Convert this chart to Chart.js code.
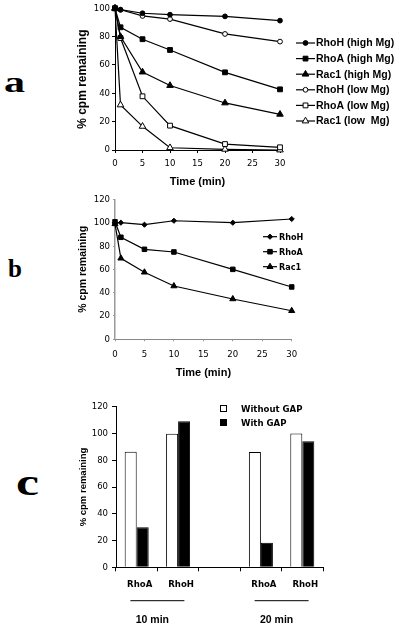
<!DOCTYPE html>
<html><head><meta charset="utf-8">
<script src="https://cdn.jsdelivr.net/npm/chart.js@4.4.1/dist/chart.umd.min.js"></script>
<style>
html,body{margin:0;padding:0;background:#fff;width:400px;height:634px;overflow:hidden;position:relative;}
canvas{position:absolute;left:0;}
.lab{position:absolute;font-family:"Liberation Serif","DejaVu Serif",serif;font-weight:bold;color:#000;line-height:1;transform-origin:left top;white-space:nowrap;}
</style></head><body>
<div class="lab" style="left:4px;top:67px;font-size:30px;transform:scaleX(1.4);">a</div>
<div class="lab" style="left:8px;top:256px;font-size:25px;">b</div>
<div class="lab" style="left:16px;top:464px;font-size:37px;transform:scaleX(1.4);">c</div>
<canvas id="ca" width="400" height="200" style="top:0px"></canvas>
<canvas id="cb" width="400" height="200" style="top:190px"></canvas>
<canvas id="cc" width="400" height="239" style="top:395px"></canvas>
<script>
// ---------- DATA ----------
// Panel a
const timeA = [0, 1, 5, 10, 20, 30];
const rhoHHighA = [100, 99, 96.5, 95.5, 94.3, 91.3];
const rhoAHighA = [100, 86.6, 78.2, 70.6, 54.8, 42.8];
const rac1HighA = [100, 80, 55, 45.5, 33.2, 25.2];
const rhoHLowA = [100, 99, 94.6, 92.4, 81.9, 76.5];
const rhoALowA = [100, 79, 37.9, 17.2, 4.2, 1.9];
const rac1LowA = [100, 31.8, 16.7, 1.6, 0.5, 0];
const labelsA = ['RhoH (high Mg)', 'RhoA (high Mg)', 'Rac1 (high Mg)', 'RhoH (low Mg)', 'RhoA (low Mg)', 'Rac1 (low  Mg)'];
// Panel b
const timeB = [0, 1, 5, 10, 20, 30];
const rhoHB = [100, 100, 98.3, 101.7, 100, 103.2];
const rhoAB = [100.8, 87.5, 77.2, 74.9, 60, 44.9];
const rac1B = [99, 69.5, 57.5, 45.7, 34.6, 24.5];
const labelsB = ['RhoH', 'RhoA', 'Rac1'];
// Panel c
const categoriesC = ['RhoA', 'RhoH', '', 'RhoA', 'RhoH'];
const withoutGapC = [86.4, 99.8, null, 86.2, 100];
const withGapC = [29.9, 109.1, null, 18.4, 94.2];
const groupLabelsC = ['10 min', '20 min'];
const groupSpansC = [[0, 1], [3, 4]];
const legendC = ['Without GAP', 'With GAP'];
// Tick ranges
const yTicksA = {min: 0, max: 100, step: 20};
const yTicksB = {min: 0, max: 120, step: 20};
const yTicksC = {min: 0, max: 120, step: 20};
const xTicksAB = {min: 0, max: 30, step: 5};

// ---------- STYLE ----------
const NARROW = '"Liberation Sans Narrow","DejaVu Sans Condensed","Liberation Sans",sans-serif';
const SANS = '"Liberation Sans",Arial,sans-serif';
Chart.defaults.color = '#000';

function marker(ctx, style, filled, x, y, r) {
  ctx.save();
  ctx.lineWidth = 1; ctx.strokeStyle = '#000'; ctx.fillStyle = filled ? '#000' : '#fff';
  ctx.beginPath();
  if (style === 'circle') ctx.arc(x, y, r, 0, Math.PI * 2);
  else if (style === 'rect') { const h = r * Math.SQRT1_2; ctx.rect(x - h, y - h, 2 * h, 2 * h); }
  else if (style === 'rectRot') { ctx.moveTo(x, y - r); ctx.lineTo(x + r, y); ctx.lineTo(x, y + r); ctx.lineTo(x - r, y); ctx.closePath(); }
  else if (style === 'triangle') {
    let a = 0;
    for (let k = 0; k < 3; k++) { const px = x + Math.sin(a) * r, py = y - Math.cos(a) * r; k ? ctx.lineTo(px, py) : ctx.moveTo(px, py); a += 2 * Math.PI / 3; }
    ctx.closePath();
  }
  ctx.fill(); ctx.stroke(); ctx.restore();
}

function lineDataset(label, xs, ys, style, filled, r) {
  return {
    label: label, data: xs.map((t, i) => ({x: t, y: ys[i]})),
    borderColor: '#000', borderWidth: 1.2, tension: 0, fill: false, clip: false,
    pointStyle: style, pointRadius: r, pointBackgroundColor: filled ? '#000' : '#fff',
    pointBorderColor: '#000', pointBorderWidth: 1, _filled: filled
  };
}

function lineLegendPlugin(id, cfg) {
  return {
    id: id,
    afterDraw(chart) {
      const ctx = chart.ctx;
      ctx.save();
      chart.data.datasets.forEach((ds, i) => {
        const y = cfg.y0 + i * cfg.dy;
        ctx.strokeStyle = '#000'; ctx.lineWidth = 1.2;
        ctx.beginPath(); ctx.moveTo(cfg.x0, y); ctx.lineTo(cfg.x1, y); ctx.stroke();
        marker(ctx, ds.pointStyle, ds._filled, (cfg.x0 + cfg.x1) / 2, y, ds.pointRadius);
        ctx.fillStyle = '#000'; ctx.font = cfg.font; ctx.textBaseline = 'middle'; ctx.textAlign = 'left';
        ctx.fillText(ds.label, cfg.tx, y + 0.5);
      });
      ctx.restore();
    }
  };
}

function axisX(t, opts) {
  return {
    type: 'linear', min: t.min, max: t.max,
    ticks: {stepSize: t.step, color: '#000', font: {family: NARROW, size: 9.5}, padding: opts.tickPad, maxRotation: 0},
    grid: {display: true, drawOnChartArea: false, drawTicks: true, tickLength: opts.tickLen, color: opts.tickColor || '#000'},
    border: {color: opts.borderColor || '#000', width: 1},
    title: {display: true, text: 'Time (min)', color: '#000', font: {family: SANS, size: 11, weight: 'bold'}, padding: {top: 0, bottom: opts.titlePad}},
    afterFit: s => { s.height = opts.height; }
  };
}
function axisY(t, opts) {
  return {
    min: t.min, max: t.max,
    ticks: {stepSize: t.step, color: '#000', font: {family: NARROW, size: 9.5}, padding: opts.tickPad},
    grid: {display: true, drawOnChartArea: false, drawTicks: true, tickLength: opts.tickLen, color: opts.tickColor || '#000'},
    border: {color: opts.borderColor || '#000', width: opts.borderWidth || 1},
    title: {display: true, text: '% cpm remaining', color: '#000', font: {family: opts.titleFamily || SANS, size: opts.titleSize, weight: 'bold'}, padding: {top: opts.titlePad, bottom: 0}},
    afterFit: s => { s.width = opts.width; }
  };
}
const base = {responsive: false, animation: false, devicePixelRatio: 1,
  plugins: {legend: {display: false}, tooltip: {enabled: false}}};

// ---------- PANEL A ----------
new Chart(document.getElementById('ca'), {
  type: 'line',
  data: {datasets: [
    lineDataset(labelsA[0], timeA, rhoHHighA, 'circle', true, 2.4),
    lineDataset(labelsA[1], timeA, rhoAHighA, 'rect', true, 3.4),
    lineDataset(labelsA[2], timeA, rac1HighA, 'triangle', true, 3.8),
    lineDataset(labelsA[3], timeA, rhoHLowA, 'circle', false, 2.4),
    lineDataset(labelsA[4], timeA, rhoALowA, 'rect', false, 3.4),
    lineDataset(labelsA[5], timeA, rac1LowA, 'triangle', false, 3.8)
  ]},
  options: Object.assign({}, base, {
    layout: {padding: {top: 8.3, right: 120, bottom: 0, left: 0}},
    scales: {
      x: axisX(xTicksAB, {tickPad: 5.3, tickLen: 3, titlePad: 11.4, height: 50}),
      y: axisY(yTicksA, {tickPad: 2, tickLen: 3, titleSize: 12, titlePad: 75.8, width: 115})
    }
  }),
  plugins: [lineLegendPlugin('legA', {x0: 296, x1: 315, tx: 316, y0: 43, dy: 15.6, font: 'bold 10.5px ' + SANS})]
});

// ---------- PANEL B ----------
new Chart(document.getElementById('cb'), {
  type: 'line',
  data: {datasets: [
    lineDataset(labelsB[0], timeB, rhoHB, 'rectRot', true, 2.6),
    lineDataset(labelsB[1], timeB, rhoAB, 'rect', true, 3.2),
    lineDataset(labelsB[2], timeB, rac1B, 'triangle', true, 3.5)
  ]},
  options: Object.assign({}, base, {
    layout: {padding: {top: 9.4, right: 108.3, bottom: 0, left: 0}},
    scales: {
      x: axisX(xTicksAB, {tickPad: 8, tickLen: 2, titlePad: 10.4, height: 50.7, tickColor: '#999', borderColor: '#888'}),
      y: axisY(yTicksB, {tickPad: 3, tickLen: 2, titleSize: 10.5, titlePad: 76.7, width: 115, tickColor: '#999', borderColor: '#999', borderWidth: 1.5})
    }
  }),
  plugins: [lineLegendPlugin('legB', {x0: 263, x1: 277, tx: 279, y0: 46.7, dy: 15, font: 'bold 9px ' + NARROW})]
});

// ---------- PANEL C ----------
const extrasC = {
  id: 'extrasC',
  afterDraw(chart) {
    const ctx = chart.ctx, xs = chart.scales.x;
    ctx.save();
    // legend
    legendC.forEach((t, i) => {
      const y = [13, 27][i];
      ctx.fillStyle = i === 0 ? '#fff' : '#000'; ctx.strokeStyle = '#000'; ctx.lineWidth = 1;
      ctx.fillRect(220, y - 3, 6.5, 6.5); ctx.strokeRect(220.5, y - 2.5, 6, 6);
      ctx.fillStyle = '#000'; ctx.font = 'bold 9.5px ' + NARROW; ctx.textBaseline = 'middle'; ctx.textAlign = 'left';
      ctx.fillText(t, 241, y + 2);
    });
    // group underlines and labels
    groupSpansC.forEach((sp, i) => {
      const c = (xs.getPixelForTick(sp[0]) + xs.getPixelForTick(sp[1])) / 2;
      ctx.strokeStyle = '#000'; ctx.lineWidth = 1;
      ctx.beginPath(); ctx.moveTo(c - 27, 205.7); ctx.lineTo(c + 27, 205.7); ctx.stroke();
      ctx.fillStyle = '#000'; ctx.font = 'bold 10.5px ' + SANS; ctx.textAlign = 'center'; ctx.textBaseline = 'middle';
      ctx.fillText(groupLabelsC[i], c - 5, 225);
    });
    ctx.restore();
  }
};
new Chart(document.getElementById('cc'), {
  type: 'bar',
  data: {labels: categoriesC, datasets: [
    {label: legendC[0], data: withoutGapC, backgroundColor: '#fff', borderColor: '#000', borderWidth: 1, categoryPercentage: 0.58, barPercentage: 1},
    {label: legendC[1], data: withGapC, backgroundColor: '#000', borderColor: '#000', borderWidth: 1, categoryPercentage: 0.58, barPercentage: 1}
  ]},
  options: Object.assign({}, base, {
    layout: {padding: {top: 11.7, right: 77, bottom: 0, left: 0}},
    scales: {
      x: {
        type: 'category', offset: true,
        ticks: {color: '#000', font: {family: NARROW, size: 9.5, weight: 'bold'}, padding: 8, labelOffset: 3, maxRotation: 0, autoSkip: false},
        grid: {display: true, offset: true, drawOnChartArea: false, drawTicks: true, tickLength: 4, color: '#000'},
        border: {color: '#000', width: 1},
        afterFit: s => { s.height = 66.7; }
      },
      y: axisY(yTicksC, {tickPad: 4, tickLen: 4, titleSize: 9.5, titleFamily: SANS, titlePad: 77.3, width: 116})
    }
  }),
  plugins: [extrasC]
});
</script>
</body></html>
